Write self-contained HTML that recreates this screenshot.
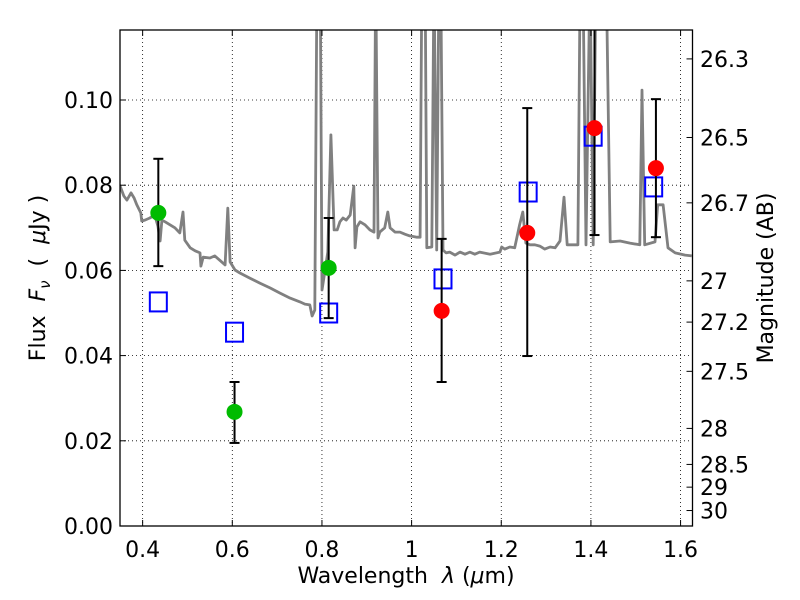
<!DOCTYPE html>
<html><head><meta charset="utf-8"><style>
html,body{margin:0;padding:0;background:#fff;}
svg{display:block;font-family:"DejaVu Sans","Liberation Sans",sans-serif;}
</style></head><body>
<svg id="chart" width="800" height="600" viewBox="0 0 800 600" xmlns="http://www.w3.org/2000/svg">
<defs><clipPath id="plotclip"><rect x="120" y="30" width="572.5" height="496"/></clipPath></defs>
<rect x="0" y="0" width="800" height="600" fill="#fff"/>
<g id="grid"></g>
<g id="spec" clip-path="url(#plotclip)"></g>
<g id="marks" clip-path="url(#plotclip)"></g>
<rect x="120" y="30" width="572.5" height="496" fill="none" stroke="#000" stroke-width="1.3"/>
<g id="axes"></g>
<text x="406" y="583" text-anchor="middle" font-size="22" xml:space="preserve">Wavelength  <tspan font-style="italic">λ</tspan> (<tspan font-style="italic">μ</tspan>m)</text>
<text transform="translate(45,278) rotate(-90)" text-anchor="middle" font-size="22" xml:space="preserve">Flux  <tspan font-style="italic">F</tspan><tspan font-style="italic" font-size="15" dy="5">ν</tspan><tspan dy="-5">  (  </tspan><tspan font-style="italic">μ</tspan>Jy )</text>
<text transform="translate(773,278) rotate(-90)" text-anchor="middle" font-size="22">Magnitude (AB)</text>
</svg>
<script>
const specLam=[0.349,0.358,0.365,0.374,0.381,0.387,0.396,0.398,0.405,0.416,0.427,0.434,0.439,0.443,0.450,0.461,0.472,0.483,0.490,0.494,0.506,0.517,0.528,0.530,0.535,0.550,0.561,0.572,0.584,0.590,0.595,0.606,0.617,0.639,0.662,0.684,0.706,0.729,0.751,0.762,0.773,0.778,0.784,0.789,0.796,0.800,0.807,0.813,0.820,0.827,0.834,0.840,0.847,0.854,0.863,0.871,0.874,0.878,0.885,0.896,0.907,0.916,0.920,0.925,0.929,0.940,0.947,0.952,0.963,0.974,0.985,0.996,1.012,1.019,1.023,1.030,1.034,1.045,1.050,1.056,1.061,1.065,1.070,1.077,1.085,1.097,1.108,1.119,1.130,1.141,1.152,1.175,1.197,1.201,1.208,1.219,1.230,1.241,1.248,1.255,1.264,1.275,1.286,1.297,1.309,1.320,1.331,1.340,1.347,1.371,1.376,1.382,1.389,1.398,1.405,1.411,1.434,1.443,1.465,1.487,1.509,1.514,1.520,1.543,1.549,1.561,1.572,1.588,1.610,1.625];
const specFlux=[0.0800,0.0775,0.0765,0.0782,0.0770,0.0754,0.0735,0.0716,0.0718,0.0723,0.0730,0.0704,0.0669,0.0718,0.0714,0.0707,0.0700,0.0688,0.0737,0.0671,0.0653,0.0646,0.0641,0.0610,0.0631,0.0629,0.0634,0.0624,0.0613,0.0746,0.0620,0.0601,0.0594,0.0582,0.0570,0.0559,0.0547,0.0535,0.0526,0.0521,0.0519,0.0493,0.0507,0.13,0.13,0.0554,0.0601,0.0643,0.0918,0.0695,0.0695,0.0714,0.0723,0.0718,0.0730,0.0798,0.0653,0.0702,0.0714,0.0707,0.0695,0.0690,0.13,0.0676,0.0690,0.0700,0.0737,0.0700,0.0690,0.0690,0.0685,0.0681,0.0678,0.0678,0.13,0.13,0.0653,0.0655,0.13,0.0648,0.13,0.13,0.0648,0.0641,0.0643,0.0636,0.0643,0.0638,0.0643,0.0638,0.0643,0.0638,0.0643,0.0655,0.0650,0.0655,0.0653,0.0707,0.0737,0.0664,0.0660,0.0660,0.0657,0.0650,0.0655,0.0653,0.0669,0.0772,0.0660,0.0660,0.13,0.13,0.0660,0.13,0.0660,0.13,0.13,0.0667,0.0669,0.0664,0.0660,0.1023,0.0660,0.0667,0.0754,0.0754,0.0653,0.0641,0.0636,0.0634];
const bandLam=[0.435,0.605,0.815,1.067,1.258,1.408,1.545];
const obsFlux=[0.0735,0.0268,0.0606,0.0505,0.0688,0.0934,0.0840];
const errHi=[0.0862,0.0338,0.0723,0.0674,0.0981,0.125,0.1002];
const errLo=[0.0610,0.0195,0.0488,0.0338,0.0399,0.0683,0.0678];
const obsColor=['#00bb00','#00bb00','#00bb00','#ff0000','#ff0000','#ff0000','#ff0000'];
const modelLam=[0.435,0.605,0.815,1.070,1.260,1.405,1.540];
const modelFlux=[0.0526,0.0455,0.0500,0.0580,0.0784,0.0915,0.0796];
const xTicks=[0.4,0.6,0.8,1.0,1.2,1.4,1.6];
const xTickLabels=['0.4','0.6','0.8','1','1.2','1.4','1.6'];
const yTicks=[0,0.02,0.04,0.06,0.08,0.10];
const yTickLabels=['0.00','0.02','0.04','0.06','0.08','0.10'];
const magTicks=[26.3,26.5,26.7,27,27.2,27.5,28,28.5,29,30];
const magTickLabels=['26.3','26.5','26.7','27','27.2','27.5','28','28.5','29','30'];

const NS='http://www.w3.org/2000/svg';
const X0=120,X1=692.5,Y0=526,Y1=30,LMIN=0.3495,LMAX=1.6266,FMAX=(526-30)/4260;
function sx(l){return X0+(l-LMIN)/(LMAX-LMIN)*(X1-X0);}
function sy(f){return Y0-f/FMAX*(Y0-Y1);}
function mk(tag,attrs,parent){const e=document.createElementNS(NS,tag);for(const k in attrs)e.setAttribute(k,attrs[k]);parent.appendChild(e);return e;}
const grid=document.getElementById('grid'),axes=document.getElementById('axes'),spec=document.getElementById('spec'),marks=document.getElementById('marks');

xTicks.forEach((t,i)=>{
  const x=sx(t);
  const g=mk('line',{x1:x,x2:x,y1:Y1,y2:Y0,stroke:'#000','stroke-width':0.8,'stroke-dasharray':'1,3'},grid);
  
  
  mk('line',{x1:x,x2:x,y1:Y0,y2:Y0-6,stroke:'#000'},axes);
  mk('line',{x1:x,x2:x,y1:Y1,y2:Y1+6,stroke:'#000'},axes);
  const tx=mk('text',{x:x,y:557,'text-anchor':'middle','font-size':22},axes);
  tx.textContent=xTickLabels[i];
  
  
});
yTicks.forEach((t,i)=>{
  const y=sy(t);
  const g=mk('line',{x1:X0,x2:X1,y1:y,y2:y,stroke:'#000','stroke-width':0.8,'stroke-dasharray':'1,3'},grid);
  
  
  mk('line',{x1:X0,x2:X0+6,y1:y,y2:y,stroke:'#000'},axes);
  const tx=mk('text',{x:113,y:y+8,'text-anchor':'end','font-size':22},axes);
  tx.textContent=yTickLabels[i];
  
  
});
magTicks.forEach((m,i)=>{
  const y=sy(Math.pow(10,(23.9-m)/2.5));
  mk('line',{x1:X1-6,x2:X1,y1:y,y2:y,stroke:'#000'},axes);
  const tx=mk('text',{x:700,y:y+8,'text-anchor':'start','font-size':22},axes);
  tx.textContent=magTickLabels[i];
  
  
});

const pts=specLam.map((l,i)=>sx(l).toFixed(1)+','+sy(specFlux[i]).toFixed(1)).join(' ');
const pl=mk('polyline',{points:pts,fill:'none',stroke:'#808080','stroke-width':2.8,'stroke-linejoin':'round'},spec);



modelLam.forEach((l,i)=>{
  const x=sx(l),y=sy(modelFlux[i]);
  const r=mk('rect',{x:x-8.5,y:y-9.5,width:17,height:19,fill:'none',stroke:'#0000ff','stroke-width':2},marks);
  
  
});
bandLam.forEach((l,i)=>{
  const x=sx(l);
  const e=mk('line',{x1:x,x2:x,y1:sy(errHi[i]),y2:sy(errLo[i]),stroke:'#000','stroke-width':2},marks);
  
  
  mk('line',{x1:x-5,x2:x+5,y1:sy(errHi[i]),y2:sy(errHi[i]),stroke:'#000','stroke-width':2},marks);
  mk('line',{x1:x-5,x2:x+5,y1:sy(errLo[i]),y2:sy(errLo[i]),stroke:'#000','stroke-width':2},marks);
});
bandLam.forEach((l,i)=>{
  const c=mk('circle',{cx:sx(l),cy:sy(obsFlux[i]),r:8,fill:obsColor[i]},marks);
  
  
});
</script>
</body></html>
